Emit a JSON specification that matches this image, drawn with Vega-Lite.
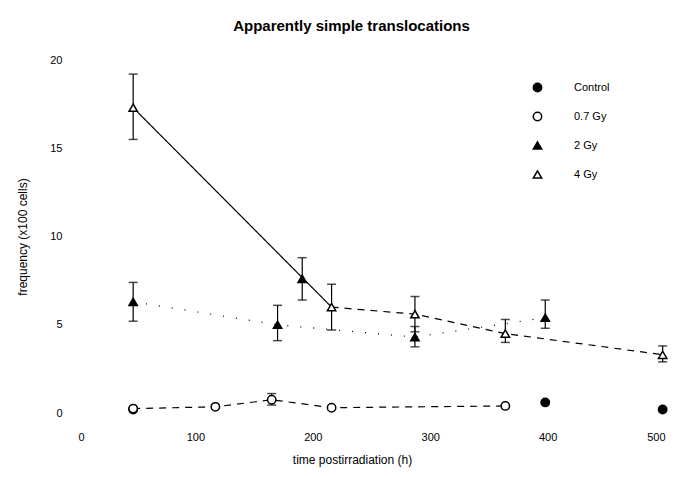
{
  "$schema": "https://vega.github.io/schema/vega-lite/v6.json",
  "width": 587,
  "height": 353,
  "autosize": {"type": "none"},
  "padding": {"left": 78, "top": 60, "right": 20, "bottom": 64},
  "background": "white",
  "title": {"text": "Apparently simple translocations", "fontSize": 15, "font": "Liberation Sans", "fontWeight": "bold", "offset": 20, "dx": -20, "color": "black"},
  "config": {
    "view": {"stroke": null},
    "axis": {"labelFont": "Liberation Sans", "labelFontSize": 11, "labelColor": "black", "titleFont": "Liberation Sans", "titleFontSize": 12, "titleFontWeight": "normal", "titleColor": "black", "domain": false, "ticks": false, "grid": false},
    "legend": {"labelFont": "Liberation Sans", "labelFontSize": 11, "labelColor": "black"}
  },
  "datasets": {
    "pts": [
      {"series": "Control", "t": 47, "y": 0.2, "lo": null, "hi": null},
      {"series": "Control", "t": 398, "y": 0.6, "lo": null, "hi": null},
      {"series": "Control", "t": 498, "y": 0.2, "lo": null, "hi": null},
      {"series": "0.7 Gy", "t": 47, "y": 0.25, "lo": null, "hi": null},
      {"series": "0.7 Gy", "t": 117, "y": 0.35, "lo": null, "hi": null},
      {"series": "0.7 Gy", "t": 165, "y": 0.75, "lo": 0.45, "hi": 1.1},
      {"series": "0.7 Gy", "t": 216, "y": 0.3, "lo": null, "hi": null},
      {"series": "0.7 Gy", "t": 364, "y": 0.4, "lo": null, "hi": null},
      {"series": "2 Gy", "t": 47, "y": 6.3, "lo": 5.2, "hi": 7.4},
      {"series": "2 Gy", "t": 170, "y": 5.0, "lo": 4.1, "hi": 6.1},
      {"series": "2 Gy", "t": 191, "y": 7.6, "lo": 6.4, "hi": 8.8},
      {"series": "2 Gy", "t": 287, "y": 4.3, "lo": 3.75, "hi": 4.9},
      {"series": "2 Gy", "t": 398, "y": 5.4, "lo": 4.8, "hi": 6.4},
      {"series": "4 Gy", "t": 47, "y": 17.3, "lo": 15.5, "hi": 19.2},
      {"series": "4 Gy", "t": 216, "y": 6.0, "lo": 4.7, "hi": 7.3},
      {"series": "4 Gy", "t": 287, "y": 5.6, "lo": 4.6, "hi": 6.6},
      {"series": "4 Gy", "t": 364, "y": 4.5, "lo": 4.0, "hi": 5.3},
      {"series": "4 Gy", "t": 498, "y": 3.3, "lo": 2.9, "hi": 3.8}
    ],
    "lines": [
      {"seg": "4a", "style": "solid", "t": 47, "y": 17.3},
      {"seg": "4a", "style": "solid", "t": 216, "y": 6.0},
      {"seg": "4b", "style": "dashed", "t": 216, "y": 6.0},
      {"seg": "4b", "style": "dashed", "t": 287, "y": 5.6},
      {"seg": "4b", "style": "dashed", "t": 364, "y": 4.5},
      {"seg": "4b", "style": "dashed", "t": 498, "y": 3.3},
      {"seg": "07", "style": "dashed", "t": 47, "y": 0.25},
      {"seg": "07", "style": "dashed", "t": 117, "y": 0.35},
      {"seg": "07", "style": "dashed", "t": 165, "y": 0.75},
      {"seg": "07", "style": "dashed", "t": 216, "y": 0.3},
      {"seg": "07", "style": "dashed", "t": 364, "y": 0.4},
      {"seg": "2", "style": "dotted", "t": 47, "y": 6.3},
      {"seg": "2", "style": "dotted", "t": 170, "y": 5.0},
      {"seg": "2", "style": "dotted", "t": 287, "y": 4.3},
      {"seg": "2", "style": "dotted", "t": 398, "y": 5.4}
    ]
  },
  "layer": [
    {
      "data": {"name": "lines"},
      "mark": {"type": "line", "color": "black", "strokeWidth": 1.2},
      "encoding": {
        "x": {"field": "t", "type": "quantitative", "scale": {"domain": [0, 500], "nice": false, "zero": false}, "axis": {"values": [0, 100, 200, 300, 400, 500], "labelPadding": 18, "title": "time postirradiation (h)", "titlePadding": 12, "titleX": 274}},
        "y": {"field": "y", "type": "quantitative", "scale": {"domain": [0, 20], "nice": false}, "axis": {"values": [0, 5, 10, 15, 20], "labelPadding": 16, "title": "frequency (x100 cells)", "titlePadding": 20}},
        "detail": {"field": "seg"},
        "strokeDash": {"field": "style", "type": "nominal", "scale": {"domain": ["solid", "dashed", "dotted"], "range": [[1, 0], [7, 6], [1, 12]]}, "legend": null}
      }
    },
    {
      "data": {"name": "pts"},
      "mark": {"type": "rule", "color": "black", "strokeWidth": 1.2},
      "encoding": {
        "x": {"field": "t", "type": "quantitative"},
        "y": {"field": "lo", "type": "quantitative"},
        "y2": {"field": "hi"}
      }
    },
    {
      "data": {"name": "pts"},
      "mark": {"type": "tick", "color": "black", "size": 9, "thickness": 1.5, "orient": "horizontal"},
      "encoding": {
        "x": {"field": "t", "type": "quantitative"},
        "y": {"field": "lo", "type": "quantitative"}
      }
    },
    {
      "data": {"name": "pts"},
      "mark": {"type": "tick", "color": "black", "size": 9, "thickness": 1.5, "orient": "horizontal"},
      "encoding": {
        "x": {"field": "t", "type": "quantitative"},
        "y": {"field": "hi", "type": "quantitative"}
      }
    },
    {
      "data": {"name": "pts"},
      "mark": {"type": "point", "stroke": "black", "strokeWidth": 1.5, "size": 70, "opacity": 1},
      "encoding": {
        "x": {"field": "t", "type": "quantitative"},
        "y": {"field": "y", "type": "quantitative"},
        "shape": {"field": "series", "type": "nominal", "scale": {"domain": ["Control", "0.7 Gy", "2 Gy", "4 Gy"], "range": ["circle", "circle", "triangle-up", "triangle-up"]}, "legend": {"title": null, "orient": "none", "legendX": 454, "legendY": 22, "rowPadding": 14, "labelOffset": 31, "symbolSize": 70, "symbolStrokeWidth": 1.5, "encode": {"symbols": {"update": {"stroke": {"value": "black"}, "strokeWidth": {"value": 1.5}}}}}},
        "fill": {"field": "series", "type": "nominal", "scale": {"domain": ["Control", "0.7 Gy", "2 Gy", "4 Gy"], "range": ["black", "white", "black", "white"]}, "legend": {"title": null, "orient": "none", "legendX": 454, "legendY": 22, "rowPadding": 14, "labelOffset": 31, "symbolSize": 70, "symbolStrokeWidth": 1.5, "encode": {"symbols": {"update": {"stroke": {"value": "black"}, "strokeWidth": {"value": 1.5}}}}}}
      }
    }
  ]
}
